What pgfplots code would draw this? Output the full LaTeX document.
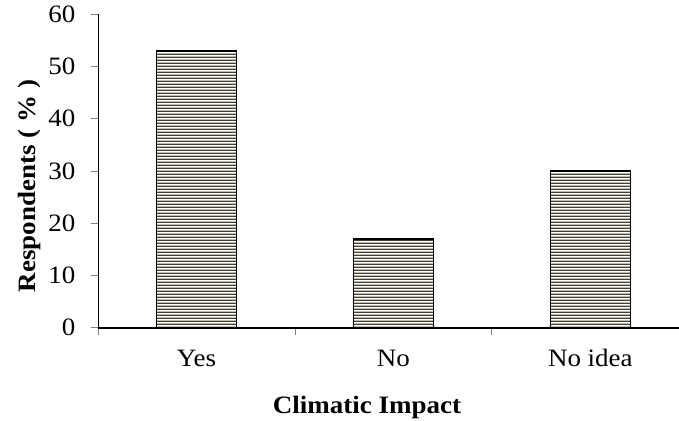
\documentclass[border=0pt]{standalone}
\usepackage{fontspec}
\setmainfont{Liberation Serif}[FakeStretch=1.08]
\usepackage{pgfplots}
\pgfplotsset{compat=1.18}
\usetikzlibrary{patterns.meta, calc}

\definecolor{stripe}{RGB}{70,64,48}
\definecolor{tickgray}{RGB}{128,128,128}

% wide tile so the stripes show no vertical seams inside a bar
\pgfdeclarepattern{
  name=hstripes,
  type=uncolored,
  bottom left={\pgfpoint{0bp}{0bp}},
  top right={\pgfpoint{700bp}{3bp}},
  tile size={\pgfpoint{700bp}{3bp}},
  code={
    \pgfpathrectangle{\pgfpoint{-1bp}{0bp}}{\pgfpoint{702bp}{1.75bp}}
    \pgfusepath{fill}
  }
}

\begin{document}
\begin{tikzpicture}
\begin{axis}[
    scale only axis,
    width=581bp, height=313.4bp,
    xmin=-0.5, xmax=2.45,
    ymin=0, ymax=60,
    axis lines=left,
    axis line style={-},
    x axis line style={line width=1.6bp},
    y axis line style={line width=0.9bp},
    tick align=outside,
    major tick length=7bp,
    tick style={tickgray, line width=0.9bp},
    ytick={0,10,...,60},
    xtick={-0.5,0.5,1.5},
    xticklabels={},
    extra x ticks={0,1,2},
    extra x tick labels={Yes,No,No idea},
    extra x tick style={major tick length=0pt},
    tick label style={font=\fontsize{25bp}{28bp}\selectfont},
    /pgf/number format/assume math mode=true,
    xticklabel style={anchor=base, yshift=-38.5bp},
    yticklabel style={xshift=-12bp},
    xlabel={Climatic Impact},
    ylabel={Respondents ( \% )},
    label style={font=\fontsize{25bp}{28bp}\selectfont\bfseries},
    xlabel style={at={(axis description cs:0.463,-0.275)}, anchor=base},
    ylabel style={at={(axis description cs:-0.108,0.452)}, anchor=base},
]
\addplot[ybar, bar width=0.405, draw=black, line width=1.3bp,
    pattern=hstripes, pattern color=stripe]
    coordinates {(0,53) (1,17) (2,30)};
\coordinate (bl) at (rel axis cs:0,0);
\coordinate (tr) at (rel axis cs:1,1);
\end{axis}
\pgfresetboundingbox
\path[use as bounding box] ($(bl)+(-98bp,-93.3bp)$) rectangle ($(tr)+(0,14.3bp)$);
\end{tikzpicture}
\end{document}
